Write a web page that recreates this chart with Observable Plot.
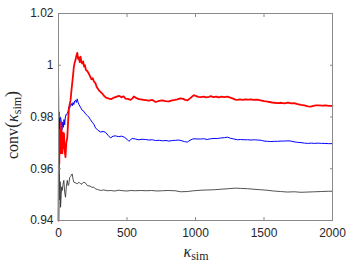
<!DOCTYPE html>
<html><head><meta charset="utf-8">
<script src="https://cdn.jsdelivr.net/npm/d3@7"></script>
<script src="https://cdn.jsdelivr.net/npm/@observablehq/plot@0.6"></script>
<style>body{margin:0;background:#fff}</style>
</head><body><div id="chart"></div>
<script>
const xTicks = [0, 500, 1000, 1500, 2000];
const xTickLabels = ["0", "500", "1000", "1500", "2000"];
const yTicks = [0.94, 0.96, 0.98, 1, 1.02];
const yTickLabels = ["0.94", "0.96", "0.98", "1", "1.02"];

const redK = [0,2,4,6,8,10,13,16,20,24,28,32,36,40,45,51,57,64,70,75,80,88,94,100,106,112,118,124,130,137,143,148,155,161,167,173,180,187,193,200,210,221,230,240,250,258,270,280,295,308,319,335,350,368,385,400,420,441,460,475,489,505,526,540,550,565,587,610,635,660,685,709,735,758,782,806,830,850,867,890,910,925,940,960,977,990,1005,1020,1038,1060,1080,1100,1111,1130,1150,1170,1190,1210,1233,1255,1275,1290,1306,1325,1345,1365,1385,1405,1425,1452,1475,1500,1525,1550,1574,1600,1625,1650,1675,1700,1720,1745,1770,1795,1820,1842,1860,1880,1900,1925,1950,1975,2000];
const redV = [0.940,0.956,0.972,0.962,0.975,0.968,0.973,0.966,0.978,0.970,0.966,0.974,0.968,0.9737,0.967,0.9645,0.970,0.972,0.978,0.9826,0.9845,0.9865,0.990,0.993,0.996,0.9994,1.001,1.002,1.0035,1.0048,1.0025,1.003,1.0012,1.0033,1.0012,1.0007,1.0015,0.9995,1.0000,0.9982,0.9978,0.9968,0.9958,0.9946,0.9950,0.9938,0.9930,0.9915,0.9903,0.9896,0.9891,0.9880,0.9874,0.9871,0.9869,0.9874,0.9878,0.9882,0.9876,0.9880,0.9871,0.9870,0.9866,0.9872,0.9879,0.9874,0.9869,0.9867,0.9865,0.9863,0.9866,0.9858,0.9862,0.9864,0.9861,0.9860,0.9864,0.9866,0.9868,0.9872,0.9870,0.9866,0.9864,0.9872,0.9880,0.9884,0.9881,0.9878,0.9877,0.9879,0.9876,0.9878,0.9881,0.9877,0.9879,0.9876,0.9879,0.9877,0.9879,0.9875,0.9871,0.9867,0.9866,0.9868,0.9866,0.9868,0.9867,0.9868,0.9866,0.9867,0.9864,0.9861,0.9859,0.9857,0.9855,0.9854,0.9855,0.9853,0.9856,0.9853,0.9854,0.9850,0.9847,0.9845,0.9841,0.9840,0.9843,0.9845,0.9845,0.9844,0.9845,0.9843,0.9843];

const blueK = [0,1,2,3,5,7,9,12,15,20,25,30,35,40,45,50,55,60,64,70,75,80,88,94,100,106,112,118,124,130,137,143,150,160,173,185,197,210,221,233,246,258,270,285,307,325,343,360,380,398,416,440,460,480,500,514,526,538,560,585,610,636,660,685,708,735,760,785,806,830,855,879,900,920,940,960,975,989,1010,1038,1060,1085,1111,1135,1160,1185,1210,1233,1255,1280,1306,1330,1355,1380,1405,1430,1452,1480,1500,1525,1549,1575,1600,1625,1650,1675,1696,1720,1745,1770,1795,1818,1845,1870,1895,1920,1945,1970,2000];
const blueV = [0.994,0.988,0.977,0.982,0.974,0.980,0.973,0.979,0.980,0.978,0.975,0.978,0.976,0.979,0.977,0.980,0.981,0.9808,0.9814,0.9822,0.9838,0.9832,0.9845,0.9852,0.9843,0.9856,0.9848,0.9862,0.9865,0.9856,0.9870,0.9856,0.9848,0.9838,0.9826,0.9822,0.9812,0.9806,0.9800,0.9790,0.9780,0.9772,0.9758,0.9750,0.9742,0.9744,0.9741,0.9730,0.9719,0.9726,0.9727,0.9724,0.9726,0.9722,0.9714,0.9706,0.9712,0.9717,0.9715,0.9712,0.9714,0.9713,0.9711,0.9712,0.9709,0.9710,0.9708,0.9709,0.9707,0.9709,0.9710,0.9711,0.9708,0.9705,0.9703,0.9710,0.9714,0.9716,0.9715,0.9715,0.9716,0.9713,0.9716,0.9717,0.9717,0.9719,0.9720,0.9722,0.9718,0.9715,0.9712,0.9713,0.9712,0.9712,0.9711,0.9712,0.9711,0.9710,0.9707,0.9706,0.9705,0.9706,0.9706,0.9707,0.9707,0.9708,0.9707,0.9704,0.9702,0.9701,0.9699,0.9698,0.9699,0.9698,0.9699,0.9698,0.9698,0.9697,0.9697];

const blackK = [0,2,3,5,7,9,12,15,20,24,27,33,39,45,51,57,64,70,75,82,88,94,100,106,112,125,137,150,165,185,197,210,230,245,258,270,285,307,330,356,380,410,440,470,500,530,560,600,640,680,720,760,800,850,892,940,988,1040,1090,1140,1190,1240,1290,1330,1380,1420,1470,1520,1570,1620,1670,1720,1770,1820,1870,1920,1970,2000];
const blackV = [0.940,0.958,0.963,0.952,0.958,0.948,0.955,0.9451,0.950,0.953,0.9516,0.954,0.9555,0.951,0.949,0.953,0.9555,0.9535,0.9540,0.9567,0.9570,0.9576,0.9580,0.9560,0.9548,0.9545,0.9542,0.9548,0.9540,0.9548,0.9545,0.9535,0.9533,0.9528,0.9529,0.9522,0.9520,0.9516,0.9518,0.9515,0.9516,0.9514,0.9517,0.9515,0.9514,0.9516,0.9515,0.9516,0.9515,0.9516,0.9514,0.9515,0.9516,0.9515,0.9511,0.9512,0.9515,0.9517,0.9518,0.9519,0.9521,0.9523,0.9525,0.9524,0.9523,0.9521,0.9519,0.9517,0.9514,0.9512,0.9510,0.9511,0.9509,0.9510,0.9511,0.9512,0.9513,0.9513];

const toRows = (ks, vs) => ks.map((k, i) => ({k, v: vs[i]}));
const red = toRows(redK, redV), blue = toRows(blueK, blueV), black = toRows(blackK, blackV);

const frameColor = "#8a8a8a";
const chart = Plot.plot({
  width: 354, height: 267,
  marginLeft: 58, marginRight: 22, marginTop: 13, marginBottom: 47,
  style: {fontFamily: "'Liberation Sans', Arial, sans-serif", fontSize: "12px", color: "#262626", background: "#fff"},
  x: {domain: [0, 2000], label: null},
  y: {domain: [0.94, 1.02], label: null},
  marks: [
    Plot.line(black, {x: "k", y: "v", stroke: "#262626", strokeWidth: 0.8}),
    Plot.line(blue, {x: "k", y: "v", stroke: "#0000ff", strokeWidth: 1}),
    Plot.line(red, {x: "k", y: "v", stroke: "#ff0000", strokeWidth: 1.8}),
    Plot.frame({stroke: frameColor}),
    Plot.axisX(xTicks, {anchor: "bottom", tickSize: 0, tickPadding: 8, tickFormat: d => xTickLabels[xTicks.indexOf(d)], label: null, fill: "#262626"}),
    Plot.axisX(xTicks, {anchor: "bottom", tickSize: -3, tickFormat: () => "", stroke: frameColor, label: null}),
    Plot.axisX(xTicks, {anchor: "top", tickSize: -3, tickFormat: () => "", stroke: frameColor, label: null}),
    Plot.axisY(yTicks, {anchor: "left", tickSize: 0, tickPadding: 5, tickFormat: d => yTickLabels[yTicks.indexOf(d)], label: null, fill: "#262626"}),
    Plot.axisY(yTicks, {anchor: "left", tickSize: -3, tickFormat: () => "", stroke: frameColor, label: null}),
    Plot.axisY(yTicks, {anchor: "right", tickSize: -3, tickFormat: () => "", stroke: frameColor, label: null})
  ]
});
document.getElementById("chart").appendChild(chart);

const svg = d3.select(chart);
const serif = "'Liberation Serif', 'Times New Roman', serif";
// x label: kappa_sim
const xl = svg.append("text").attr("x", 196).attr("y", 257).attr("text-anchor", "middle")
  .attr("font-family", serif).attr("fill", "#262626");
xl.append("tspan").attr("font-style", "italic").attr("font-size", 16).text("κ");
xl.append("tspan").attr("font-size", 12).attr("dy", 3).text("sim");
// y label: conv(kappa_sim)
const yl = svg.append("text").attr("transform", "translate(18,125) rotate(-90)").attr("text-anchor", "middle")
  .attr("font-family", serif).attr("fill", "#262626");
yl.append("tspan").attr("font-size", 16).text("conv");
yl.append("tspan").attr("font-size", 18).text("(");
yl.append("tspan").attr("font-style", "italic").attr("font-size", 16).text("κ");
yl.append("tspan").attr("font-size", 12).attr("dy", 3).text("sim");
yl.append("tspan").attr("font-size", 18).attr("dy", -3).text(")");
</script>
</body></html>
